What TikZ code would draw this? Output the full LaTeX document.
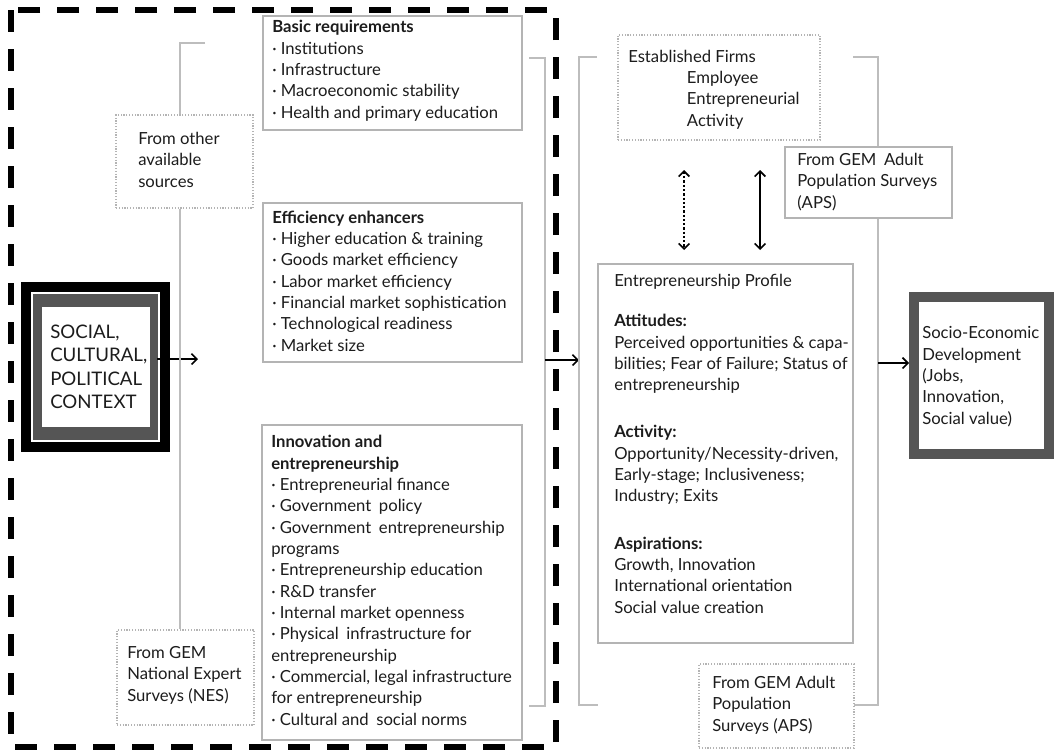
\documentclass[tikz,border=0pt]{standalone}
\usepackage{fontspec}
\setmainfont{Lato}
\usetikzlibrary{arrows.meta,fit}
\definecolor{boxgray}{HTML}{B4B4B4}
\definecolor{linegray}{HTML}{BDBDBD}
\definecolor{txtc}{HTML}{1C1C1C}
\definecolor{darkband}{HTML}{555555}
\begin{document}
\begin{tikzpicture}[x=0.75pt,y=-0.75pt,
  box/.style={draw=boxgray, line width=1.1pt, inner sep=0},
  dotbox/.style={draw=boxgray, line width=0.9pt, dash pattern=on 0.9pt off 1.2pt, inner sep=0},
  txt/.style={inner sep=0, align=left, text=txtc, font=\fontsize{12.5pt}{16pt}\selectfont},
  bracket/.style={draw=linegray, line width=1.2pt},
  tipb/.tip={Straight Barb[length=4pt,width=8pt,line width=1.2pt]},
  arr/.style={draw=black, line width=1.2pt, -tipb},
  darr/.style={draw=black, line width=1.2pt, tipb-tipb},
]
\useasboundingbox (0,0) rectangle (1055,751);

% dashed border
\draw[line width=4.3pt, dash pattern=on 16.5pt off 12.75pt] (11,10) rectangle (556,747);

% SOCIAL box
\node[fit={(21,282)(170,452)}, inner sep=0, fill=black] (socialOuter) {};
\node[fit={(31,292)(160,442)}, inner sep=0, fill=white] (socialGap) {};
\node[fit={(33,294)(158,440)}, inner sep=0, fill=darkband] (socialBand) {};
\node[fit={(42,307)(150,427)}, inner sep=0, fill=white] (social) {};
\node[inner sep=0, align=left, text=txtc, font=\fontsize{14pt}{17.5pt}\selectfont, anchor=base west] (socialT) at (50,408.5) {SOCIAL,\\CULTURAL,\\POLITICAL\\CONTEXT};
\coordinate (socialOut) at (157,359);
\coordinate (socialTip) at (198,359);
\draw[arr] (socialOut) -- (socialTip);

% left bracket
\node[dotbox, fit={(116,115)(253,208)}] (other) {};
\node[txt, anchor=base west] (otherT) at (138,187) {From other\\available\\sources};
\node[dotbox, fit={(117,630)(254,725)}] (nes) {};
\node[txt, anchor=base west] (nesT) at (127,701) {From GEM\\National Expert\\Surveys (NES)};
\coordinate (lbTop) at (205,43);
\coordinate (lbx) at (180,0);
\draw[bracket] (lbTop) -- (lbTop -| lbx) -- (lbx |- other.north);
\draw[bracket] (lbx |- other.south) -- (lbx |- nes.north);

% left column boxes
\node[box, fit={(263,16)(522,130)}] (basic) {};
\node[txt, anchor=base west] (basicT) at (272,118) {{\bfseries Basic requirements}\\· Institutions\\· Infrastructure\\· Macroeconomic stability\\· Health and primary education};
\node[box, fit={(263,203)(522,362)}] (eff) {};
\node[txt, anchor=base west] (effT) at (272,351) {{\bfseries Efficiency enhancers}\\· Higher education \& training\\· Goods market efficiency\\· Labor market efficiency\\· Financial market sophistication\\· Technological readiness\\· Market size};
\node[box, fit={(262,425)(522,740)}] (inno) {};
\node[txt, anchor=base west] (innoT) at (271,725) {{\bfseries Innovation and}\\{\bfseries entrepreneurship}\\· Entrepreneurial finance\\· Government\hspace{0.2em} policy\\· Government\hspace{0.2em} entrepreneurship\\programs\\· Entrepreneurship education\\· R\&D transfer\\· Internal market openness\\· Physical\hspace{0.2em} infrastructure for\\entrepreneurship\\· Commercial, legal infrastructure\\for entrepreneurship\\· Cultural and\hspace{0.2em} social norms};

% bracket right of left column and arrow
\coordinate (rb1) at (529,58);
\coordinate (rb2) at (529,706);
\coordinate (rbx) at (545,0);
\draw[bracket] (rb1) -- (rb1 -| rbx) -- (rb2 -| rbx) -- (rb2);
\coordinate (midOut) at (545,360);
\coordinate (midTip) at (579,360);
\draw[arr] (midOut) -- (midTip);

% right column bracket
\coordinate (rc1) at (597,57);
\coordinate (rc2) at (598,705);
\coordinate (rcx) at (579,0);
\draw[bracket] (rc1) -- (rc1 -| rcx) -- (rc2 -| rcx) -- (rc2);

% established firms
\node[dotbox, fit={(618,35)(820,140)}] (estab) {};
\node[txt, anchor=base west] (estabT) at (628,126) {Established Firms\\\hspace*{44pt}Employee\\\hspace*{44pt}Entrepreneurial\\\hspace*{44pt}Activity};

% APS top
\node[box, fit={(785,147)(952,218)}] (aps1) {};
\node[txt, anchor=base west] (aps1T) at (797,208) {From GEM\hspace{0.2em} Adult\\Population Surveys\\(APS)};

% right bracket of right column
\coordinate (rr1) at (853,57);
\coordinate (rr2) at (854,705);
\coordinate (rrx) at (878,0);
\draw[bracket] (rr1) -- (rr1 -| rrx) -- (rrx |- aps1.north);
\draw[bracket] (rrx |- aps1.south) -- (rr2 -| rrx) -- (rr2);

% profile
\node[box, fit={(598,264)(853,643)}] (profile) {};
\node[txt, anchor=base west] (profileT) at (614,613) {Entrepreneurship Profile\\[14pt]
{\bfseries Attitudes:}\\Perceived opportunities \& capa-\\bilities; Fear of Failure; Status of\\entrepreneurship\\[19.3pt]
{\bfseries Activity:}\\Opportunity/Necessity-driven,\\Early-stage; Inclusiveness;\\Industry; Exits\\[19.3pt]
{\bfseries Aspirations:}\\Growth, Innovation\\International orientation\\Social value creation};

% double arrows
\coordinate (d1a) at (684,170);
\coordinate (d1b) at (684,250);
\coordinate (d2a) at (760,170);
\coordinate (d2b) at (760,250);
\draw[darr, line width=1.7pt, dash pattern=on 1.7pt off 1.5pt] (d1a) -- (d1b);
\draw[darr] (d2a) -- (d2b);

% APS bottom
\node[dotbox, fit={(699,664)(854,748)}] (aps2) {};
\node[txt, anchor=base west] (aps2T) at (712,731) {From GEM Adult\\Population\\Surveys (APS)};

% socio-economic
\node[draw=darkband, line width=7.5pt, inner sep=0, fill=white, fit={(914,297)(1049,454)}] (socio) {};
\node[txt, anchor=base west] (socioT) at (922,424) {Socio-Economic\\Development\\(Jobs,\\Innovation,\\Social value)};
\coordinate (socOut) at (878,363);
\draw[arr] (socOut) -- (socOut -| socio.west);
\end{tikzpicture}
\end{document}
